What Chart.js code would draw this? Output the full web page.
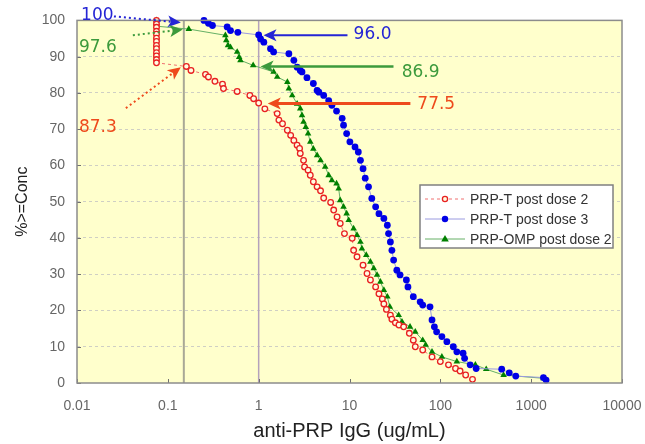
<!DOCTYPE html>
<html>
<head>
<meta charset="utf-8">
<script src="https://cdn.jsdelivr.net/npm/chart.js@4.4.1/dist/chart.umd.min.js"></script>
<style>
html, body { margin: 0; padding: 0; background: #fff; }
</style>
</head>
<body>
<canvas id="rcChart" width="645" height="444"></canvas>
<script>
// reverse cumulative distribution of anti-PRP IgG
const xTicks = [0.01, 0.1, 1, 10, 100, 1000, 10000];
const seriesNames = ['PRP-T post dose 2', 'PRP-T post dose 3', 'PRP-OMP post dose 2'];
const cutoffs = [0.15, 1];
const calloutLabels = ['100', '97.6', '87.3', '96.0', '86.9', '77.5'];

const redConc = [0.075, 0.075, 0.075, 0.075, 0.075, 0.075, 0.075, 0.075, 0.075, 0.075, 0.075, 0.075, 0.075,
    0.16, 0.18, 0.26, 0.28, 0.33, 0.40, 0.41, 0.58, 0.80, 0.88, 1.0, 1.17, 1.6, 1.67, 1.83, 2.07, 2.25, 2.44,
    2.65, 2.82, 2.87, 3.12, 3.2, 3.5, 3.7, 4.0, 4.4, 4.8, 5.2, 6.2, 6.7, 7.3, 7.9, 8.8, 10.7, 11.1, 12.1, 14.1,
    15.6, 17.0, 19.4, 21.1, 23.0, 23.9, 25.5, 28.2, 29.3, 32, 35, 39.5, 45.6, 50.4, 53, 64, 81, 100, 123, 147,
    165, 190, 226];
const redPct = [100, 99.0, 98.1, 97.0, 96.2, 95.1, 94.2, 93.1, 92.2, 91.1, 90.2, 89.2, 88.3,
    87.3, 86.2, 85.1, 84.4, 83.2, 82.4, 81.2, 80.4, 79.3, 78.4, 77.2, 75.6, 74.3, 72.5, 71.5, 69.7, 68.3, 66.9,
    65.6, 64.7, 63.3, 61.4, 59.6, 58.7, 57.3, 55.5, 54.1, 53.0, 51.0, 49.8, 47.7, 45.8, 44.0, 41.2, 39.9, 36.6,
    34.8, 32.5, 30.2, 28.4, 26.5, 24.6, 23.2, 21.8, 20.3, 18.7, 17.6, 16.6, 16.0, 15.5, 13.7, 11.8, 10.0, 9.1,
    7.2, 5.9, 5.0, 4.0, 3.3, 2.2, 1.0];

const blueConc = [0.25, 0.28, 0.31, 0.45, 0.49, 0.59, 1.0, 1.05, 1.14, 1.35, 1.46, 2.15, 2.44, 2.65, 2.87,
    3.0, 3.4, 4.0, 4.4, 4.6, 5.2, 5.9, 6.4, 7.2, 8.3, 8.6, 9.3, 10.1, 11.5, 12.5, 13.2, 14.1, 14.9, 16.2, 17.6,
    19.4, 21.1, 23.9, 26.1, 26.9, 28.2, 29.3, 30.6, 33.2, 36.0, 42.3, 44.0, 50.4, 60, 64, 77, 81, 86, 91, 104,
    118, 139, 152, 178, 185, 213, 248, 474, 574, 677, 1365, 1460];
const bluePct = [100, 99.2, 98.6, 98.2, 97.2, 96.7, 96.0, 94.9, 94.0, 92.2, 91.3, 90.8, 89.0, 87.1, 86.2,
    85.8, 84.2, 82.6, 80.7, 80.2, 79.3, 77.9, 76.6, 75.0, 73.0, 71.1, 68.8, 66.5, 65.1, 63.7, 61.4, 59.1, 56.5,
    54.1, 50.9, 48.6, 46.7, 45.4, 43.5, 41.2, 38.9, 36.6, 33.9, 31.1, 29.8, 28.4, 26.5, 23.8, 22.4, 21.5, 21.0,
    17.4, 15.5, 14.1, 12.8, 11.4, 10.0, 8.6, 8.2, 6.8, 5.0, 4.0, 3.8, 2.8, 1.9, 1.5, 0.8];

const greenConc = [0.075, 0.075, 0.075, 0.17, 0.43, 0.44, 0.46, 0.49, 0.58, 0.61, 0.63, 0.87, 1.46, 1.6,
    2.07, 2.15, 2.34, 2.65, 2.87, 3.0, 3.12, 3.3, 3.5, 3.7, 4.0, 4.4, 4.8, 5.4, 5.9, 6.4, 7.2, 7.6, 7.9, 8.6,
    9.3, 9.8, 11.1, 12.1, 13.2, 13.7, 15.3, 17.0, 18.5, 20.1, 21.9, 23.9, 26.1, 27.8, 34.8, 37.8, 46.4, 53, 64,
    69, 81, 104, 152, 243, 320, 497, 1365];
const greenPct = [100, 99.2, 98.4, 97.6, 95.9, 94.5, 93.1, 92.6, 91.3, 89.9, 89.0, 87.6, 85.8, 84.4, 83.0,
    81.2, 79.3, 77.0, 75.7, 73.8, 72.0, 70.6, 68.8, 66.5, 64.6, 62.8, 61.4, 59.6, 57.3, 55.9, 55.0, 53.6, 50.4,
    48.6, 46.7, 44.9, 42.6, 40.8, 38.9, 37.1, 35.3, 33.4, 31.6, 29.8, 27.9, 25.6, 23.8, 21.0, 18.7, 16.9, 15.5,
    14.1, 11.8, 10.5, 8.6, 7.2, 5.9, 5.0, 3.8, 2.2, 1.3];

const pts = (xs, ys) => xs.map((x, i) => ({ x: x, y: ys[i] }));

const RED = '#e82020', BLUE = '#0000e6', GREEN = '#008000';
const AXIS_FONT = 'Liberation Sans, Arial, sans-serif';
const NOTE_FONT = 'DejaVu Sans, Verdana, sans-serif';

// callouts: text position and arrow ends, in data units
const callouts = [
    { text: calloutLabels[0], color: '#2525d5', at: [0.0111, 101.4], from: [0.0255, 101.1], to: [0.139, 99.4], dotted: true, w: 2 },
    { text: calloutLabels[1], color: '#3c9a3c', at: [0.0105, 92.6], from: [0.0412, 95.9], to: [0.146, 97.5], dotted: true, w: 2 },
    { text: calloutLabels[2], color: '#ee4a1c', at: [0.0105, 70.5], from: [0.0345, 75.8], to: [0.139, 87.1], dotted: true, w: 2 },
    { text: calloutLabels[3], color: '#2525d5', at: [11.1, 96.1], from: [9.5, 95.9], to: [1.13, 95.9], dotted: false, w: 2 },
    { text: calloutLabels[4], color: '#3c9a3c', at: [37.5, 85.7], from: [30.5, 87.3], to: [1.05, 87.3], dotted: false, w: 2.5 },
    { text: calloutLabels[5], color: '#ee4a1c', at: [55.8, 76.9], from: [46.8, 77.1], to: [1.26, 77.1], dotted: false, w: 3 }
];

function drawArrow(ctx, x1, y1, x2, y2, color, width, dotted) {
    const ang = Math.atan2(y2 - y1, x2 - x1);
    const c = Math.cos(ang), s = Math.sin(ang);
    const hl = 13, hw = 6;
    ctx.strokeStyle = color;
    ctx.fillStyle = color;
    ctx.lineWidth = width;
    ctx.setLineDash(dotted ? [2, 3] : []);
    ctx.beginPath();
    ctx.moveTo(x1, y1);
    ctx.lineTo(x2 - c * hl * 0.7, y2 - s * hl * 0.7);
    ctx.stroke();
    ctx.setLineDash([]);
    ctx.beginPath();
    ctx.moveTo(x2, y2);
    ctx.lineTo(x2 - c * hl - s * hw, y2 - s * hl + c * hw);
    ctx.lineTo(x2 - c * hl * 0.75, y2 - s * hl * 0.75);
    ctx.lineTo(x2 - c * hl + s * hw, y2 - s * hl - c * hw);
    ctx.closePath();
    ctx.fill();
}

function drawMarker(ctx, kind, x, y) {
    ctx.setLineDash([]);
    if (kind === 0) {
        ctx.beginPath();
        ctx.arc(x, y, 2.6, 0, Math.PI * 2);
        ctx.fillStyle = '#fffbe0';
        ctx.fill();
        ctx.lineWidth = 1.3;
        ctx.strokeStyle = RED;
        ctx.stroke();
    } else if (kind === 1) {
        ctx.beginPath();
        ctx.arc(x, y, 3.2, 0, Math.PI * 2);
        ctx.fillStyle = BLUE;
        ctx.fill();
    } else {
        ctx.beginPath();
        ctx.moveTo(x, y - 4);
        ctx.lineTo(x + 3.8, y + 2.6);
        ctx.lineTo(x - 3.8, y + 2.6);
        ctx.closePath();
        ctx.fillStyle = GREEN;
        ctx.fill();
    }
}

const decor = {
    id: 'decor',
    beforeDraw(chart) {
        const { ctx, chartArea: a } = chart;
        ctx.save();
        ctx.fillStyle = '#ffffff';
        ctx.fillRect(0, 0, chart.width, chart.height);
        ctx.fillStyle = '#ffffcc';
        ctx.fillRect(a.left, a.top, a.right - a.left, a.bottom - a.top);
        ctx.restore();
    },
    beforeDatasetsDraw(chart) {
        const { ctx, chartArea: a, scales } = chart;
        const cols = ['#a9a896', '#b4a2bc'];
        ctx.save();
        cutoffs.forEach((v, i) => {
            const x = scales.x.getPixelForValue(v);
            ctx.strokeStyle = cols[i];
            ctx.lineWidth = i === 0 ? 2 : 1.5;
            ctx.beginPath();
            ctx.moveTo(x, a.top);
            ctx.lineTo(x, a.bottom);
            ctx.stroke();
        });
        // short inward tick marks
        ctx.strokeStyle = '#707070';
        ctx.lineWidth = 1;
        xTicks.forEach(v => {
            const x = Math.round(scales.x.getPixelForValue(v)) + 0.5;
            ctx.beginPath();
            ctx.moveTo(x, a.bottom);
            ctx.lineTo(x, a.bottom - 4);
            ctx.stroke();
        });
        scales.y.ticks.forEach(t => {
            const y = Math.round(scales.y.getPixelForValue(t.value)) + 0.5;
            ctx.beginPath();
            ctx.moveTo(a.left, y);
            ctx.lineTo(a.left + 4, y);
            ctx.stroke();
        });
        ctx.restore();
    },
    afterDatasetsDraw(chart) {
        const { ctx, chartArea: a, scales } = chart;
        ctx.save();
        ctx.strokeStyle = '#8c8c8c';
        ctx.lineWidth = 1.5;
        ctx.strokeRect(a.left, a.top, a.right - a.left, a.bottom - a.top);

        callouts.forEach(c => {
            const px = v => scales.x.getPixelForValue(v);
            const py = v => scales.y.getPixelForValue(v);
            drawArrow(ctx, px(c.from[0]), py(c.from[1]), px(c.to[0]), py(c.to[1]), c.color, c.w, c.dotted);
            ctx.fillStyle = c.color;
            ctx.font = '17px ' + NOTE_FONT;
            ctx.textAlign = 'left';
            ctx.textBaseline = 'middle';
            ctx.fillText(c.text, px(c.at[0]), py(c.at[1]));
        });

        // legend box
        const lx = 420, ly = 185, lw = 193, lh = 63;
        ctx.fillStyle = '#ffffff';
        ctx.fillRect(lx, ly, lw, lh);
        ctx.strokeStyle = '#808080';
        ctx.lineWidth = 1.5;
        ctx.strokeRect(lx, ly, lw, lh);
        const lineCols = ['#f07070', '#9a9ae0', '#66b066'];
        seriesNames.forEach((name, i) => {
            const y = ly + 14 + i * 20;
            ctx.strokeStyle = lineCols[i];
            ctx.lineWidth = 1;
            ctx.setLineDash(i === 0 ? [3, 3] : []);
            ctx.beginPath();
            ctx.moveTo(lx + 5, y);
            ctx.lineTo(lx + 45, y);
            ctx.stroke();
            drawMarker(ctx, i, lx + 25, y);
            ctx.fillStyle = '#333333';
            ctx.font = '14px ' + AXIS_FONT;
            ctx.textAlign = 'left';
            ctx.textBaseline = 'middle';
            ctx.fillText(name, lx + 50, y + 1);
        });
        ctx.restore();
    }
};

const ctx = document.getElementById('rcChart');
new Chart(ctx, {
    type: 'scatter',
    data: {
        datasets: [
            {
                label: seriesNames[0],
                data: pts(redConc, redPct),
                showLine: true,
                borderColor: '#f07070',
                borderWidth: 1,
                borderDash: [3, 3],
                pointStyle: 'circle',
                pointRadius: 2.8,
                pointBorderWidth: 1.3,
                pointBorderColor: RED,
                pointBackgroundColor: '#fffbe0',
                clip: false
            },
            {
                label: seriesNames[1],
                data: pts(blueConc, bluePct),
                showLine: true,
                borderColor: '#9a9ae0',
                borderWidth: 1,
                pointStyle: 'circle',
                pointRadius: 3.4,
                pointBorderWidth: 0,
                pointBackgroundColor: BLUE,
                clip: false
            },
            {
                label: seriesNames[2],
                data: pts(greenConc, greenPct),
                showLine: true,
                borderColor: '#66b066',
                borderWidth: 1,
                pointStyle: 'triangle',
                pointRadius: 3.8,
                pointBorderWidth: 0,
                pointBackgroundColor: GREEN,
                clip: false
            }
        ]
    },
    options: {
        responsive: false,
        devicePixelRatio: 1,
        animation: false,
        layout: { padding: { top: 20, right: 23, left: 0, bottom: 0 } },
        plugins: {
            legend: { display: false },
            tooltip: { enabled: false }
        },
        scales: {
            x: {
                type: 'logarithmic',
                min: 0.01,
                max: 10000,
                afterBuildTicks: scale => { scale.ticks = xTicks.map(v => ({ value: v })); },
                afterFit: scale => {
                    scale.height = 61;
                    scale.paddingLeft = 0;
                    scale.paddingRight = 0;
                },
                ticks: {
                    callback: v => String(v),
                    color: '#666',
                    padding: 15,
                    maxRotation: 0,
                    autoSkip: false,
                    font: { size: 14, family: AXIS_FONT }
                },
                grid: { display: false, drawTicks: false },
                border: { display: false },
                title: {
                    display: true,
                    text: 'anti-PRP IgG (ug/mL)',
                    color: '#222',
                    padding: { top: 0, bottom: 1 },
                    font: { size: 20, family: AXIS_FONT }
                }
            },
            y: {
                min: 0,
                max: 100,
                afterFit: scale => { scale.width = 77; },
                ticks: {
                    stepSize: 10,
                    color: '#666',
                    padding: 12,
                    font: { size: 14, family: AXIS_FONT }
                },
                grid: {
                    drawTicks: false,
                    color: c => (c.tick.value === 0 || c.tick.value === 100) ? 'rgba(0,0,0,0)' : '#cfcfc4',
                    lineWidth: 1
                },
                border: { display: false, dash: [3, 3] },
                title: {
                    display: true,
                    text: '%>=Conc',
                    color: '#222',
                    padding: { top: 13, bottom: 0 },
                    font: { size: 16, family: AXIS_FONT }
                }
            }
        }
    },
    plugins: [decor]
});
</script>
</body>
</html>
